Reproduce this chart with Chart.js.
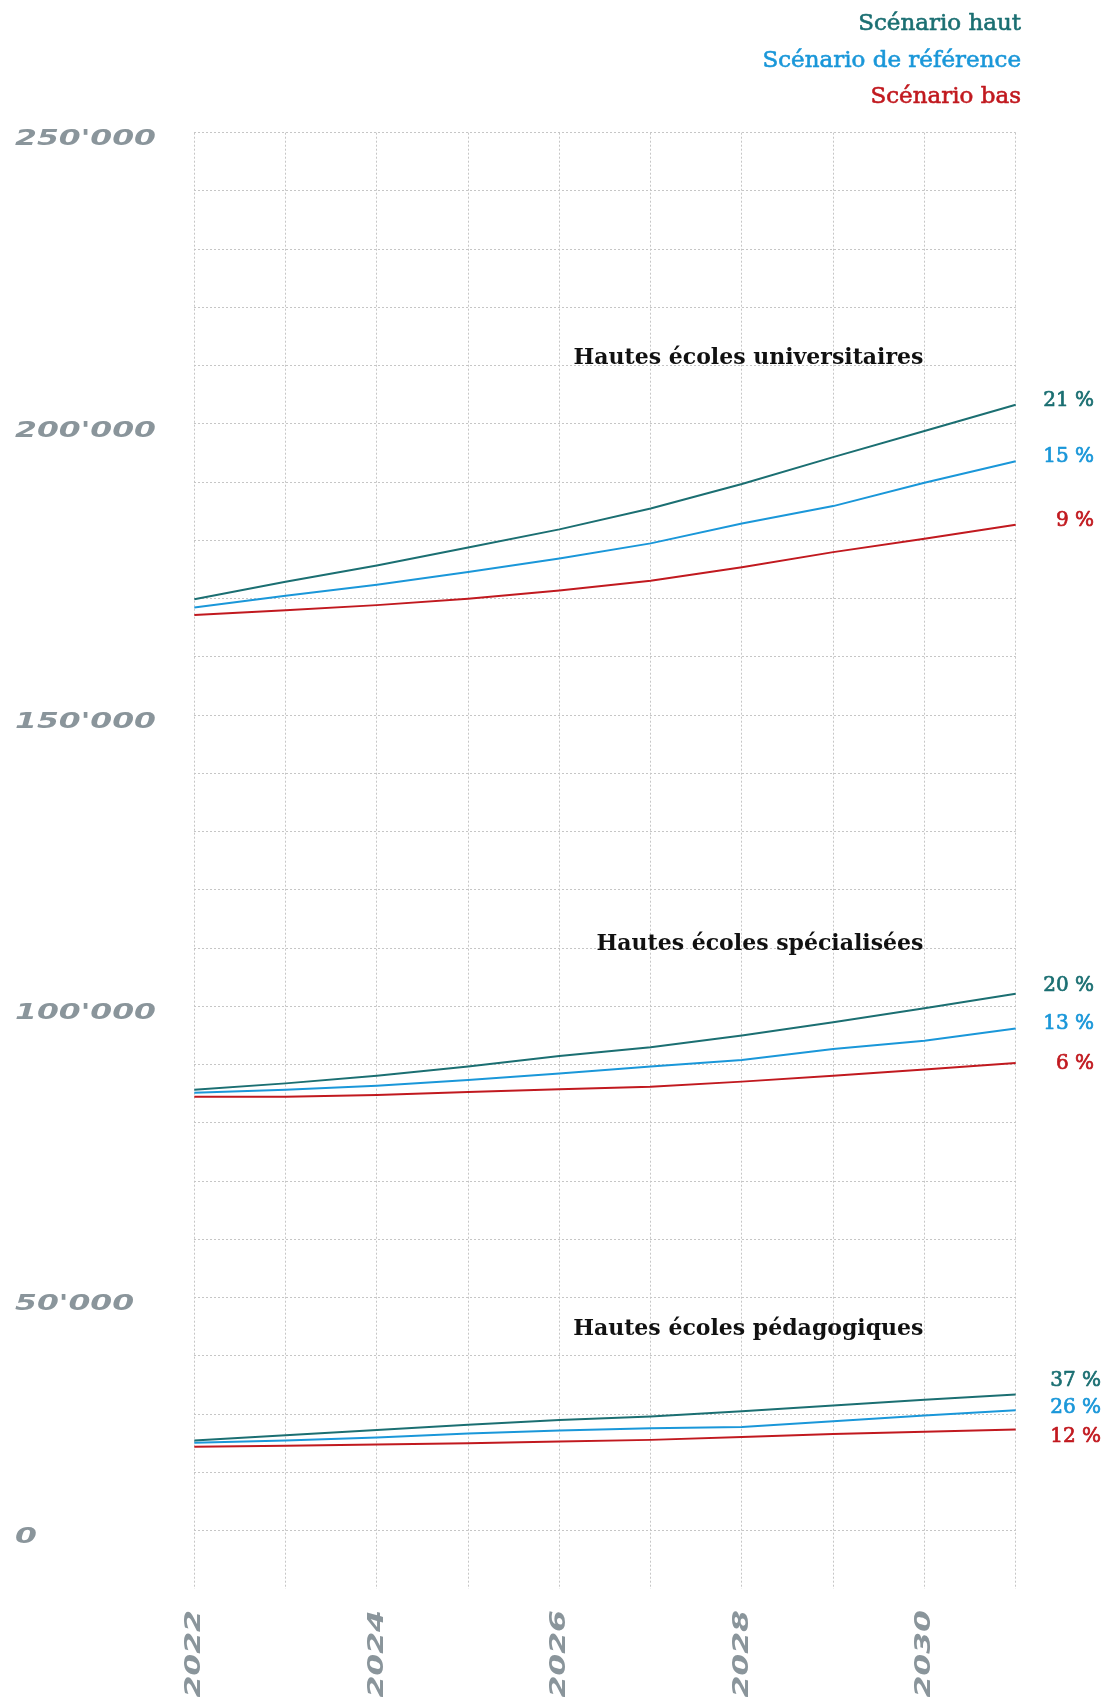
<!DOCTYPE html>
<html>
<head>
<meta charset="utf-8">
<script src="https://cdn.jsdelivr.net/npm/chart.js@4/dist/chart.umd.min.js"></script>
<style>
  html, body { margin: 0; padding: 0; background: #ffffff; }
  #wrap { width: 1103px; height: 1697px; }
</style>
</head>
<body>
<div id="wrap"><canvas id="c" width="1103" height="1697"></canvas></div>
<script>
// ---- data ----
const years = ['2022','2023','2024','2025','2026','2027','2028','2029','2030','2031'];

const scenarioNames = ['Scénario haut', 'Scénario de référence', 'Scénario bas'];
const groupTitles = ['Hautes écoles universitaires', 'Hautes écoles spécialisées', 'Hautes écoles pédagogiques'];

const uhHaut = [169900, 172900, 175700, 178800, 181900, 185500, 189700, 194300, 198800, 203300];
const uhRef  = [168500, 170500, 172400, 174600, 176900, 179500, 182900, 185900, 189900, 193600];
const uhBas  = [167200, 168000, 168900, 170000, 171400, 173100, 175400, 178000, 180300, 182700];

const fhHaut = [85700, 86800, 88100, 89700, 91500, 93000, 95000, 97300, 99700, 102200];
const fhRef  = [85200, 85700, 86400, 87400, 88500, 89700, 90800, 92700, 94100, 96200];
const fhBas  = [84500, 84500, 84800, 85300, 85800, 86200, 87100, 88100, 89200, 90300];

const phHaut = [25500, 26400, 27300, 28200, 29000, 29600, 30500, 31500, 32500, 33400];
const phRef  = [25100, 25500, 26000, 26700, 27200, 27600, 27800, 28800, 29800, 30700];
const phBas  = [24400, 24600, 24800, 25000, 25300, 25600, 26100, 26600, 27000, 27400];

const uhPct = ['21 %', '15 %', '9 %'];
const fhPct = ['20 %', '13 %', '6 %'];
const phPct = ['37 %', '26 %', '12 %'];

// y-axis tick labels and the gridline each sits on
const yTickValues = [10000, 50000, 100000, 150000, 200000, 250000];
const yTickLabels = ['0', "50'000", "100'000", "150'000", "200'000", "250'000"];
const xTickLabels = ['2022', '2024', '2026', '2028', '2030'];

// title anchor values (x category, y value)
const titleX = '2030';
const titleY = [211300, 110700, 44600];

// ---- styles ----
const colors = ['#1b6f72', '#1a97d9', '#c1191f'];
const pctOffsets = [[-4, -4, -4], [-8, -5, 1], [-14, -2, 7]];
const pctRight = [1094, 1094, 1101];

const groups = [
  {series: [uhHaut, uhRef, uhBas], pct: uhPct},
  {series: [fhHaut, fhRef, fhBas], pct: fhPct},
  {series: [phHaut, phRef, phBas], pct: phPct}
];

const datasets = [];
groups.forEach((g, gi) => {
  g.series.forEach((s, si) => {
    datasets.push({
      label: groupTitles[gi] + ' – ' + scenarioNames[si],
      data: s,
      borderColor: colors[si],
      backgroundColor: colors[si],
      borderWidth: 2,
      pointRadius: 0,
      tension: 0,
      fill: false
    });
  });
});

const tickFont = {family: 'DejaVu Sans', size: 22, weight: 'bold', style: 'italic'};
const tickColor = '#8a959b';
const gridColor = '#c6c6c6';
const tickStretch = 1.43;

// widen the axis lettering (extended face look) while the axes are drawn
const stretchPlugin = {
  id: 'stretch',
  beforeDraw(chart) {
    const ctx = chart.ctx;
    const orig = CanvasRenderingContext2D.prototype.fillText;
    ctx.fillText = function(t, x, y, mw) {
      this.save();
      this.translate(x, y);
      this.scale(tickStretch, 1);
      orig.call(this, t, 0, 0);
      this.restore();
    };
  },
  beforeDatasetsDraw(chart) { delete chart.ctx.fillText; }
};

function heavyText(ctx, txt, x, y, w) {
  ctx.fillText(txt, x, y);
  ctx.lineWidth = w;
  ctx.strokeStyle = ctx.fillStyle;
  ctx.strokeText(txt, x, y);
}

const annotPlugin = {
  id: 'annot',
  afterDraw(chart) {
    const ctx = chart.ctx;
    const xs = chart.scales.x, ys = chart.scales.y;
    delete ctx.fillText;
    ctx.save();
    ctx.lineJoin = 'round';
    // legend
    ctx.font = '23px "DejaVu Serif"';
    ctx.textAlign = 'right';
    ctx.textBaseline = 'middle';
    const legY = [24, 61, 97];
    scenarioNames.forEach((n, i) => {
      ctx.fillStyle = colors[i];
      heavyText(ctx, n, 1021, legY[i], 0.6);
    });
    // group titles
    ctx.font = 'bold 22px "DejaVu Serif"';
    ctx.fillStyle = '#111111';
    groupTitles.forEach((t, i) => {
      ctx.fillText(t, xs.getPixelForValue(years.indexOf(titleX)) - 1, ys.getPixelForValue(titleY[i]));
    });
    // percent labels at line ends
    ctx.font = '20px "DejaVu Serif"';
    groups.forEach((g, gi) => {
      g.series.forEach((s, si) => {
        const meta = chart.getDatasetMeta(gi * 3 + si);
        const pt = meta.data[meta.data.length - 1];
        ctx.fillStyle = colors[si];
        heavyText(ctx, g.pct[si], pctRight[gi], pt.y + pctOffsets[gi][si], 0.7);
      });
    });
    ctx.restore();
  }
};

new Chart(document.getElementById('c'), {
  type: 'line',
  data: {labels: years, datasets: datasets},
  options: {
    responsive: false,
    animation: false,
    devicePixelRatio: 1,
    layout: {padding: {left: 15, right: 87.3, top: 132.7, bottom: 0}},
    plugins: {legend: {display: false}, title: {display: false}, tooltip: {enabled: false}},
    scales: {
      x: {
        type: 'category',
        offset: false,
        grid: {color: gridColor, lineWidth: 1, drawTicks: false, borderDash: [2, 2]},
        border: {display: false, dash: [2, 2]},
        ticks: {
          autoSkip: false,
          maxRotation: 90,
          minRotation: 90,
          padding: 21,
          color: tickColor,
          font: tickFont,
          callback: function(value, index) {
            const lab = years[index];
            return xTickLabels.includes(lab) ? lab : '';
          }
        },
        afterFit: function(scale) { scale.height = 108; }
      },
      y: {
        type: 'linear',
        min: 0,
        max: 250000,
        grid: {
          color: (c) => (c.tick && c.tick.value === 0) ? 'rgba(0,0,0,0)' : gridColor,
          lineWidth: 1,
          drawTicks: false,
          borderDash: [2, 2]
        },
        border: {display: false, dash: [2, 2]},
        ticks: {
          stepSize: 10000,
          autoSkip: false,
          crossAlign: 'far',
          padding: 0,
          labelOffset: 7,
          color: tickColor,
          font: tickFont,
          callback: function(value) {
            const i = yTickValues.indexOf(value);
            return i >= 0 ? yTickLabels[i] : '';
          }
        },
        afterFit: function(scale) { scale.width = 179.3; }
      }
    }
  },
  plugins: [stretchPlugin, annotPlugin]
});
</script>
</body>
</html>
